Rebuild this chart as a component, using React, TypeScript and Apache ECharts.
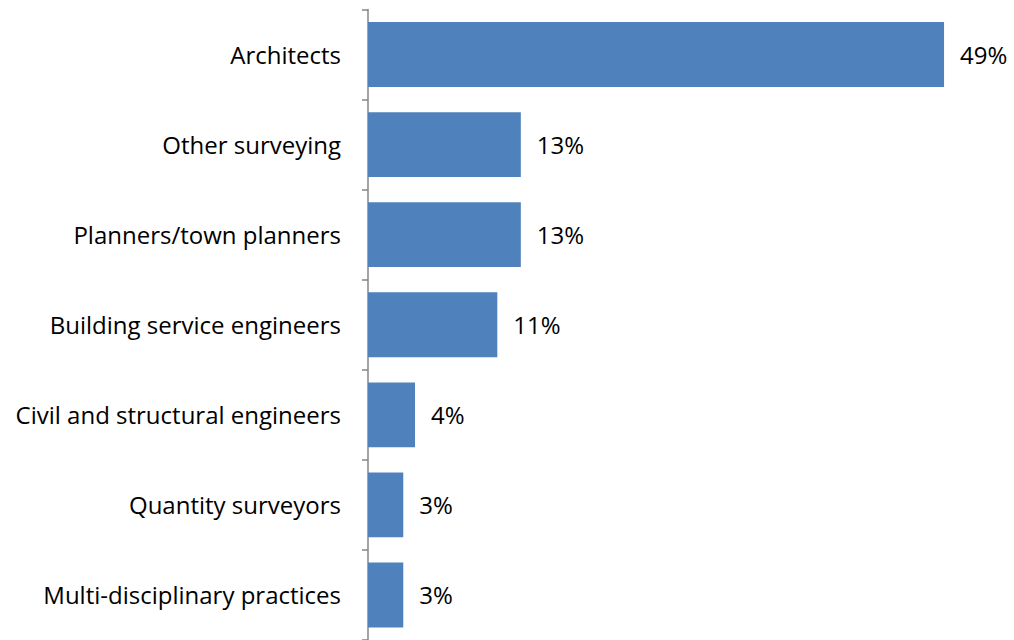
import React, { useEffect, useRef } from "react";
import * as echarts from "echarts";

const categories = [
  "Architects",
  "Other surveying",
  "Planners/town planners",
  "Building service engineers",
  "Civil and structural engineers",
  "Quantity surveyors",
  "Multi-disciplinary practices",
];
const values = [49, 13, 13, 11, 4, 3, 3];

export default function App() {
  const ref = useRef<HTMLDivElement>(null);
  useEffect(() => {
    if (!ref.current) return;
    const chart = echarts.init(ref.current, undefined, { renderer: "svg" });
    const font = "'Open Sans', sans-serif";
    chart.setOption({
      animation: false,
      backgroundColor: "#ffffff",
      grid: { left: 368, right: 58.2, top: 9.5, bottom: -3.5, containLabel: false },
      xAxis: {
        type: "value",
        min: 0,
        max: 50,
        show: false,
      },
      yAxis: {
        type: "category",
        data: categories,
        inverse: true,
        axisLine: { show: true, lineStyle: { color: "#868686", width: 1.5 } },
        axisTick: { show: true, length: 6, lineStyle: { color: "#868686", width: 1.5 } },
        axisLabel: { margin: 27, color: "#000", fontSize: 24, fontFamily: font },
        splitLine: { show: false },
      },
      series: [
        {
          type: "bar",
          data: values,
          barCategoryGap: "28%",
          itemStyle: { color: "#4F81BD" },
          label: {
            show: true,
            position: "right",
            distance: 16,
            formatter: "{c}%",
            color: "#000",
            fontSize: 24,
            fontFamily: font,
          },
        },
      ],
    });
    return () => chart.dispose();
  }, []);
  return (
    <div
      ref={ref}
      style={{ position: "fixed", left: 0, top: 0, width: 1014, height: 640 }}
    />
  );
}
